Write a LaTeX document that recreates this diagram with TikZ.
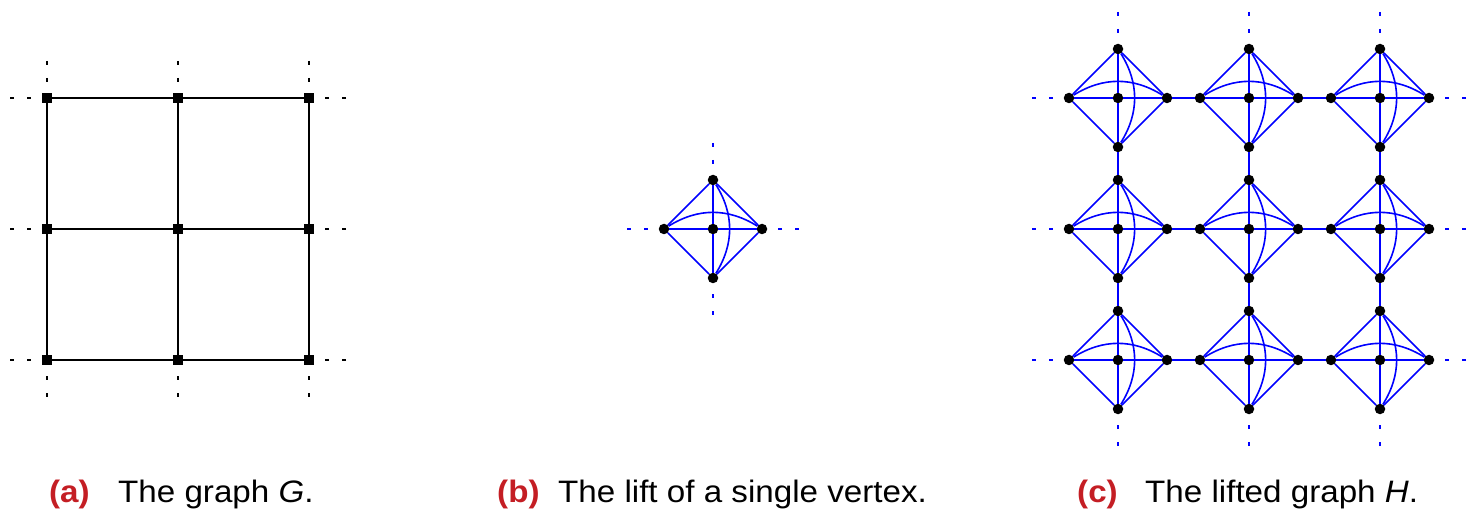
\documentclass[tikz,border=0pt]{standalone}
\usepackage{fontspec}
\setmainfont[FakeStretch=1.07]{Liberation Sans}
\definecolor{capred}{RGB}{196,30,36}
\tikzset{
  gv/.style={rectangle, fill=black, minimum size=10pt, inner sep=0pt},
  lv/.style={circle, fill=black, minimum size=10.5pt, inner sep=0pt},
  gedge/.style={line width=1.6pt, black},
  ledge/.style={line width=1.6pt, blue},
  gstub/.style={line width=1.6pt, black, dash pattern=on 4pt off 13pt},
  lstub/.style={line width=1.6pt, blue, dash pattern=on 4pt off 13pt},
  sublab/.style={anchor=base west, inner sep=0pt, font=\fontsize{31}{36}\selectfont\bfseries, text=capred},
  captxt/.style={anchor=base west, inner sep=0pt, font=\fontsize{31}{36}\selectfont},
}
\newcommand\liftgadget[3]{%
  \node[lv] (#1-c) at (#2,#3) {};
  \node[lv] (#1-t) at (#2,#3-49) {};
  \node[lv] (#1-b) at (#2,#3+49) {};
  \node[lv] (#1-l) at (#2-49,#3) {};
  \node[lv] (#1-r) at (#2+49,#3) {};
  \draw[ledge] (#1-l) -- (#1-t) -- (#1-r) -- (#1-b) -- (#1-l);
  \draw[ledge] (#1-l) -- (#1-c) -- (#1-r);
  \draw[ledge] (#1-t) -- (#1-c) -- (#1-b);
  \draw[ledge] (#1-l) to[bend left=32] (#1-r);
  \draw[ledge] (#1-t) to[bend left=32] (#1-b);
}
\begin{document}
\begin{tikzpicture}[x=1pt,y=-1pt]
\useasboundingbox (0,0) rectangle (1467,510);
% (a) the grid graph G
\foreach \i in {0,1,2}{
  \foreach \j in {0,1,2}{
    \node[gv] (a\i\j) at ({47+131*\j},{98+131*\i}) {};
  }
}
\foreach \i in {0,1,2}{
  \draw[gedge] (a\i0) -- (a\i1) -- (a\i2);
  \draw[gedge] (a0\i) -- (a1\i) -- (a2\i);
  \coordinate (asl\i) at (10,{98+131*\i});
  \coordinate (asr\i) at (346,{98+131*\i});
  \coordinate (ast\i) at ({47+131*\i},61);
  \coordinate (asb\i) at ({47+131*\i},397);
  \draw[gstub] (asl\i) -- (a\i0);
  \draw[gstub] (asr\i) -- (a\i2);
  \draw[gstub] (ast\i) -- (a0\i);
  \draw[gstub] (asb\i) -- (a2\i);
}
% (b) lift of a single vertex
\liftgadget{b}{713}{229}
\coordinate (bsl) at (627,229);
\coordinate (bsr) at (799,229);
\coordinate (bst) at (713,143);
\coordinate (bsb) at (713,315);
\draw[lstub] (bsl) -- (b-l);
\draw[lstub] (bsr) -- (b-r);
\draw[lstub] (bst) -- (b-t);
\draw[lstub] (bsb) -- (b-b);
% (c) lifted graph H
\foreach \i in {0,1,2}{
  \foreach \j in {0,1,2}{
    \liftgadget{c\i\j}{1118+131*\j}{98+131*\i}
  }
}
\foreach \i in {0,1,2}{
  \draw[ledge] (c\i0-r) -- (c\i1-l);
  \draw[ledge] (c\i1-r) -- (c\i2-l);
  \draw[ledge] (c0\i-b) -- (c1\i-t);
  \draw[ledge] (c1\i-b) -- (c2\i-t);
  \coordinate (csl\i) at (1032,{98+131*\i});
  \coordinate (csr\i) at (1466,{98+131*\i});
  \coordinate (cst\i) at ({1118+131*\i},12);
  \coordinate (csb\i) at ({1118+131*\i},446);
  \draw[lstub] (csl\i) -- (c\i0-l);
  \draw[lstub] (csr\i) -- (c\i2-r);
  \draw[lstub] (cst\i) -- (c0\i-t);
  \draw[lstub] (csb\i) -- (c2\i-b);
}
% captions
\node[sublab] (la) at (49,502) {(a)};
\node[captxt] (ta) at (118,502) {The graph \textit{G}.};
\node[sublab] (lb) at (497,502) {(b)};
\node[captxt] (tb) at (558,502) {The lift of a single vertex.};
\node[sublab] (lc) at (1077,502) {(c)};
\node[captxt] (tc) at (1145,502) {The lifted graph \textit{H}.};
\end{tikzpicture}
\end{document}
